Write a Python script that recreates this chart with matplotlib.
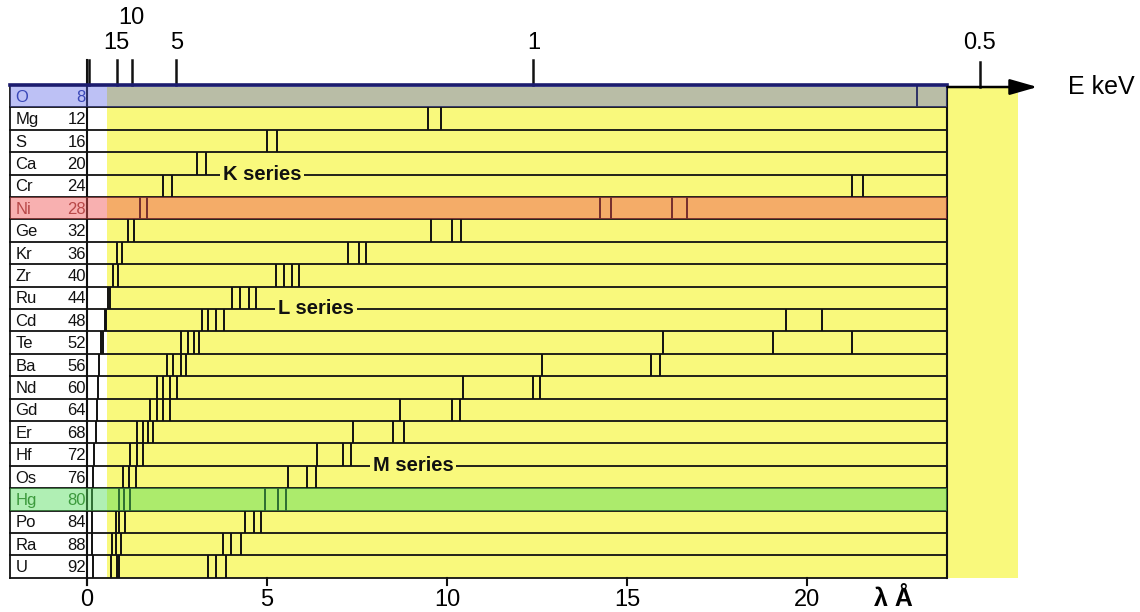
import matplotlib.pyplot as plt
from matplotlib.patches import Rectangle

plt.rcParams['font.family'] = ['Liberation Sans', 'DejaVu Sans']

# rows of the table, top to bottom
elements = ['O', 'Mg', 'S', 'Ca', 'Cr', 'Ni', 'Ge', 'Kr', 'Zr', 'Ru', 'Cd',
            'Te', 'Ba', 'Nd', 'Gd', 'Er', 'Hf', 'Os', 'Hg', 'Po', 'Ra', 'U']
atomic_numbers = [8, 12, 16, 20, 24, 28, 32, 36, 40, 44, 48,
                  52, 56, 60, 64, 68, 72, 76, 80, 84, 88, 92]

# emission line wavelengths in Angstrom, one list per row
k_lines = [[23.05], [9.48, 9.83], [5.01, 5.27], [3.06, 3.31], [2.12, 2.35],
           [1.47, 1.66], [1.14, 1.31], [0.84, 0.96], [0.73, 0.85], [0.58, 0.63],
           [0.50, 0.54], [0.40, 0.44], [0.33], [0.30], [0.27], [0.24], [0.20],
           [0.17], [0.15], [0.13], [0.15], [0.17]]
l_lines = [[], [], [], [], [21.26, 21.56],
           [14.25, 14.55, 16.24, 16.66], [9.56, 10.13, 10.38], [7.26, 7.56, 7.74],
           [5.24, 5.48, 5.70, 5.89], [4.02, 4.25, 4.50, 4.69], [3.20, 3.37, 3.57, 3.81],
           [2.61, 2.80, 2.97, 3.12], [2.21, 2.40, 2.60, 2.75], [1.95, 2.12, 2.31, 2.49],
           [1.75, 1.94, 2.12, 2.31], [1.38, 1.56, 1.70, 1.84], [1.19, 1.38, 1.56],
           [1.01, 1.18, 1.36], [0.89, 1.04, 1.19], [0.80, 0.90, 1.06],
           [0.70, 0.81, 0.94], [0.66, 0.82, 0.89]]
m_lines = [[], [], [], [], [], [], [], [], [], [],
           [19.41, 20.42], [16.01, 19.05, 21.24], [12.65, 15.66, 15.92],
           [10.44, 12.38, 12.58], [8.69, 10.13, 10.36], [7.38, 8.51, 8.81],
           [6.40, 7.12, 7.32], [5.57, 6.10, 6.35], [4.94, 5.30, 5.53],
           [4.39, 4.64, 4.82], [3.79, 3.99, 4.28], [3.35, 3.58, 3.86]]

energy_ticks = [15, 10, 5, 1, 0.5]           # keV
energy_labels = ['15', '10', '5', '1', '0.5']
wavelength_ticks = [0, 5, 10, 15, 20]        # Angstrom

series_labels = ['K series', 'L series', 'M series']
series_x = [4.86, 6.36, 9.06]
series_row = [4, 10, 17]

# highlighted rows: overlay colour, alpha, text colour
highlights = {'O': ('#5a64e6', 0.4, '#3a48b8'),
              'Ni': ('#f05050', 0.45, '#b84848'),
              'Hg': ('#50dc5a', 0.45, '#3c9a3c')}

HC = 12.398  # keV*Angstrom
yellow = '#f9f97c'
table_left, table_right = -2.14, 23.9
yellow_left, yellow_right = 0.55, 25.86
n = len(elements)

fig = plt.figure(figsize=(11.4, 6.12), dpi=100)
ax = fig.add_axes([0, 0, 1, 1])
ax.set_xlim(-87 / 36, (1140 - 87) / 36)
ax.set_ylim((612 - 85) / 22.4, -85 / 22.4)
ax.axis('off')

# background
ax.add_patch(Rectangle((yellow_left, 0.1), yellow_right - yellow_left, n - 0.1,
                       facecolor=yellow, edgecolor='none', zorder=1))

# emission lines
for i in range(n):
    xs = k_lines[i] + l_lines[i] + m_lines[i]
    ax.vlines(xs, i, i + 1, color='#111111', lw=1.4, zorder=3)

# row separators and frame
for i in range(1, n + 1):
    ax.plot([table_left, table_right], [i, i], color='#111111', lw=1.3, zorder=3)
ax.plot([table_left, table_left], [0, n], color='#111111', lw=1.3, zorder=3)
ax.plot([table_right, table_right], [0, n], color='#111111', lw=1.5, zorder=3)
ax.plot([0, 0], [-1.1, n + 0.3], color='#111111', lw=1.5, zorder=3)

# coloured row overlays
for i, el in enumerate(elements):
    if el in highlights:
        fc, a, _ = highlights[el]
        ax.add_patch(Rectangle((table_left, i), table_right - table_left, 1,
                               facecolor=fc, alpha=a, edgecolor='none', zorder=4))

# element labels
for i, (el, z) in enumerate(zip(elements, atomic_numbers)):
    c = highlights[el][2] if el in highlights else '#111111'
    ax.text(-1.99, i + 0.55, el, fontsize=12, color=c, ha='left', va='center', zorder=5)
    ax.text(-0.03, i + 0.55, str(z), fontsize=12, color=c, ha='right', va='center', zorder=5)

# series labels sitting on the separators
for lab, x, r in zip(series_labels, series_x, series_row):
    ax.text(x, r, lab, fontsize=14.5, fontweight='bold', color='#111111',
            ha='center', va='center', zorder=5,
            bbox=dict(facecolor=yellow, edgecolor='none', pad=2))

# top border
ax.plot([table_left, table_right], [0, 0], color='#1c1c6e', lw=2.6, zorder=6)

# energy axis on top
ax.annotate('', xy=(26.4, 0.09), xytext=(table_right, 0.09),
            arrowprops=dict(arrowstyle='-|>,head_length=1.05,head_width=0.3',
                            color='black', lw=1.8, mutation_scale=16,
                            shrinkA=0, shrinkB=0), zorder=6)
ax.text(27.25, 0.09, 'E keV', fontsize=18, ha='left', va='center')
ax.plot([0.05, 0.05], [-1.1, 0], color='#111111', lw=1.8)
for e, lab in zip(energy_ticks, energy_labels):
    x = HC / e
    base = 0.09 if e == 0.5 else 0
    ax.plot([x, x], [base - 1.1, base], color='#111111', lw=1.8)
    ty = -2.99 if lab == '10' else -1.875
    ax.text(x, ty, lab, fontsize=17, ha='center', va='center')

# wavelength axis at the bottom
for w in wavelength_ticks:
    ax.plot([w, w], [n, n + 0.3], color='#111111', lw=1.5)
    ax.text(w, n + 1.0, str(w), fontsize=17, ha='center', va='center')
ax.text(22.4, n + 0.95, 'λ Å', fontsize=18, fontweight='bold', ha='center', va='center')

fig.savefig('out.png', dpi=100)
